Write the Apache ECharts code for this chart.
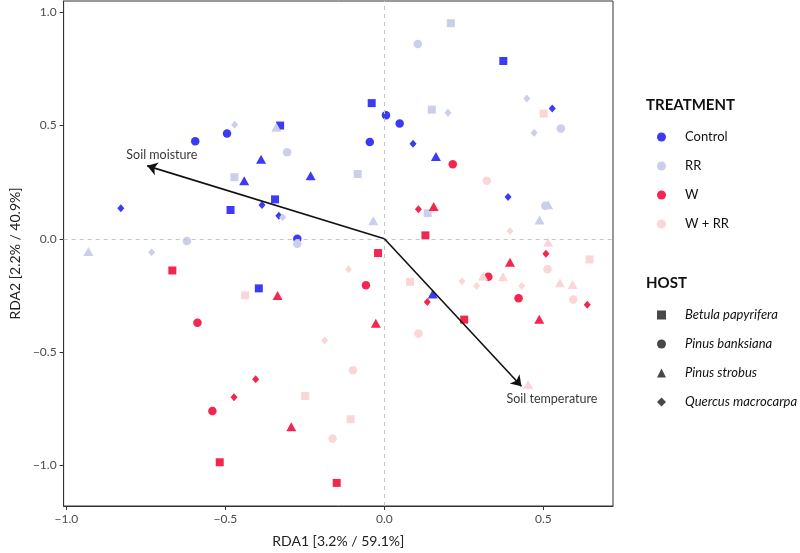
<!DOCTYPE html>
<html>
<head>
<meta charset="utf-8">
<script src="https://cdn.jsdelivr.net/npm/echarts@6/dist/echarts.min.js"></script>
<style>
  html, body { margin: 0; padding: 0; background: #fff; }
  #chart { width: 800px; height: 553px; }
</style>
</head>
<body>
<div id="chart"></div>
<script>
// hosts -> marker shape
const hosts = ['Betula papyrifera', 'Pinus banksiana', 'Pinus strobus', 'Quercus macrocarpa'];
const hostSymbols = ['rect', 'circle', 'triangle', 'diamond'];
const hostSizes = [8, 8.5, [10, 9], [7, 8]];

const treatments = ['Control', 'RR', 'W', 'W + RR'];
const treatmentColors = ['#3b3bf6', '#cbcfea', '#f2264e', '#fbd6d8'];

// site scores: [RDA1, RDA2, host index]
const controlPts = [
  [-0.829, 0.135, 3], [-0.595, 0.431, 1], [-0.495, 0.465, 1], [-0.484, 0.127, 0],
  [-0.441, 0.256, 2], [-0.388, 0.351, 2], [-0.385, 0.149, 3], [-0.344, 0.174, 0],
  [-0.332, 0.102, 3], [-0.328, 0.500, 0], [-0.232, 0.278, 2], [-0.274, 0.000, 1],
  [-0.395, -0.219, 0], [-0.040, 0.599, 0], [0.005, 0.545, 1], [0.048, 0.509, 1],
  [-0.046, 0.427, 1], [0.090, 0.420, 3], [0.162, 0.363, 2], [0.389, 0.184, 3],
  [0.374, 0.785, 0], [0.528, 0.575, 3], [0.152, -0.244, 2]
];
const rrPts = [
  [-0.471, 0.503, 3], [-0.472, 0.272, 0], [-0.320, 0.095, 3], [-0.340, 0.493, 2],
  [-0.306, 0.382, 1], [-0.274, -0.022, 1], [-0.621, -0.010, 1], [-0.931, -0.056, 2],
  [-0.732, -0.060, 3], [0.209, 0.952, 0], [0.105, 0.860, 1], [0.448, 0.620, 3],
  [0.555, 0.487, 1], [0.471, 0.468, 3], [0.149, 0.570, 0], [0.200, 0.556, 3],
  [-0.084, 0.286, 0], [0.506, 0.146, 1], [0.515, 0.150, 2], [0.488, 0.083, 2],
  [0.136, 0.113, 0], [-0.035, 0.080, 2]
];
const wPts = [
  [0.215, 0.329, 1], [0.107, 0.130, 3], [0.155, 0.143, 2], [0.129, 0.015, 0],
  [-0.667, -0.140, 0], [-0.336, -0.250, 2], [-0.588, -0.371, 1], [-0.405, -0.620, 3],
  [-0.473, -0.700, 3], [-0.541, -0.760, 1], [-0.293, -0.830, 2], [-0.518, -0.987, 0],
  [-0.020, -0.063, 0], [0.508, -0.066, 3], [0.395, -0.104, 2], [-0.058, -0.205, 1],
  [0.327, -0.168, 1], [0.422, -0.263, 1], [0.638, -0.291, 3], [0.135, -0.279, 3],
  [0.251, -0.357, 0], [0.487, -0.355, 2], [-0.027, -0.373, 2], [-0.150, -1.078, 0]
];
const wrrPts = [
  [0.501, 0.553, 0], [0.322, 0.256, 1], [0.395, 0.034, 3], [0.515, -0.015, 2],
  [0.645, -0.091, 0], [-0.113, -0.134, 3], [0.513, -0.134, 1], [0.081, -0.190, 0],
  [0.244, -0.187, 3], [0.310, -0.164, 2], [0.373, -0.168, 2], [0.290, -0.208, 3],
  [0.432, -0.208, 3], [0.552, -0.194, 2], [0.592, -0.202, 2], [0.594, -0.268, 1],
  [-0.438, -0.250, 0], [-0.249, -0.694, 0], [-0.188, -0.449, 3], [0.107, -0.418, 1],
  [-0.099, -0.580, 1], [0.452, -0.643, 2], [-0.106, -0.797, 0], [-0.163, -0.882, 1]
];
const treatmentPts = [controlPts, rrPts, wPts, wrrPts];

// environmental vectors
const envNames = ['Soil moisture', 'Soil temperature'];
const envX = [-0.746, 0.431];
const envY = [0.322, -0.651];
const envLabelX = [-0.700, 0.527];
const envLabelY = [0.369, -0.709];

const xTicks = [-1, -0.5, 0, 0.5];
const yTicks = [-1, -0.5, 0, 0.5, 1];

const fmt = v => (v < 0 ? '\u2212' : '') + Math.abs(v).toFixed(1);

const chart = echarts.init(document.getElementById('chart'));

const series = [];

// zero reference lines
series.push({
  type: 'scatter',
  data: [],
  silent: true,
  z: 1,
  markLine: {
    silent: true,
    symbol: 'none',
    label: { show: false },
    lineStyle: { type: [4, 4], color: '#c4c4c4', width: 1 },
    data: [{ xAxis: 0 }, { yAxis: 0 }]
  }
});

treatments.forEach((t, i) => {
  series.push({
    type: 'scatter',
    name: t,
    z: 3,
    itemStyle: { color: treatmentColors[i], opacity: 1 },
    emphasis: { disabled: true },
    data: treatmentPts[i].map(p => ({
      value: [p[0], p[1]],
      symbol: hostSymbols[p[2]],
      symbolSize: hostSizes[p[2]]
    }))
  });
});

// dummy series for the host legend
hosts.forEach((h, i) => {
  series.push({
    type: 'scatter',
    name: h,
    symbol: hostSymbols[i],
    itemStyle: { color: '#1a1a1a' },
    data: []
  });
});

// arrows + labels
series.push({
  type: 'scatter',
  z: 5,
  silent: true,
  symbolSize: 0,
  data: envNames.map((n, i) => ({ value: [envLabelX[i], envLabelY[i]], name: n })),
  label: {
    show: true,
    position: 'inside',
    formatter: p => p.name,
    color: '#000',
    fontSize: 12.5
  },
  markLine: {
    silent: true,
    symbol: ['none', 'arrow'],
    symbolSize: 10,
    label: { show: false },
    lineStyle: { type: 'solid', color: '#111', width: 1.6 },
    data: envNames.map((n, i) => [{ coord: [0, 0] }, { coord: [envX[i], envY[i]] }])
  }
});

const legendText = { fontSize: 13, color: '#111', lineHeight: 14, padding: [0, 0, 0, 14] };

const option = {
  animation: false,
  textStyle: { fontFamily: 'Lato' },
  title: [
    { text: 'TREATMENT', left: 641, top: 93, textStyle: { fontSize: 15, fontWeight: 'bold', color: '#111' } },
    { text: 'HOST', left: 641, top: 271, textStyle: { fontSize: 15, fontWeight: 'bold', color: '#111' } }
  ],
  legend: [
    {
      orient: 'vertical',
      left: 652,
      top: 125,
      itemWidth: 9,
      itemHeight: 9,
      itemGap: 15,
      textStyle: legendText,
      data: treatments.map(t => ({ name: t, icon: 'circle' }))
    },
    {
      orient: 'vertical',
      left: 652,
      top: 303,
      itemWidth: 9,
      itemHeight: 9,
      itemGap: 15,
      textStyle: Object.assign({}, legendText, { fontStyle: 'italic' }),
      data: hosts.map((h, i) => ({ name: h, icon: hostSymbols[i] }))
    }
  ],
  grid: {
    left: 60, right: 187, top: 1, bottom: 45,
    show: true, borderColor: '#333', borderWidth: 1
  },
  xAxis: {
    type: 'value',
    min: -1.009,
    max: 0.719,
    name: 'RDA1 [3.2% / 59.1%]',
    nameLocation: 'middle',
    nameGap: 28,
    nameTextStyle: { fontSize: 14, color: '#222' },
    axisLine: { show: true, onZero: false, lineStyle: { color: '#333', width: 1 } },
    axisTick: { show: true, length: 4, customValues: xTicks, lineStyle: { color: '#333' } },
    axisLabel: { customValues: xTicks, formatter: fmt, color: '#4d4d4d', fontSize: 12, margin: 7 },
    splitLine: { show: false }
  },
  yAxis: {
    type: 'value',
    min: -1.18,
    max: 1.05,
    name: 'RDA2 [2.2% / 40.9%]',
    nameLocation: 'middle',
    nameGap: 40,
    nameTextStyle: { fontSize: 14, color: '#222' },
    axisLine: { show: true, onZero: false, lineStyle: { color: '#333', width: 1 } },
    axisTick: { show: true, length: 4, customValues: yTicks, lineStyle: { color: '#333' } },
    axisLabel: { customValues: yTicks, formatter: fmt, color: '#4d4d4d', fontSize: 12, margin: 7 },
    splitLine: { show: false }
  },
  series: series
};

chart.setOption(option);
</script>
</body>
</html>
